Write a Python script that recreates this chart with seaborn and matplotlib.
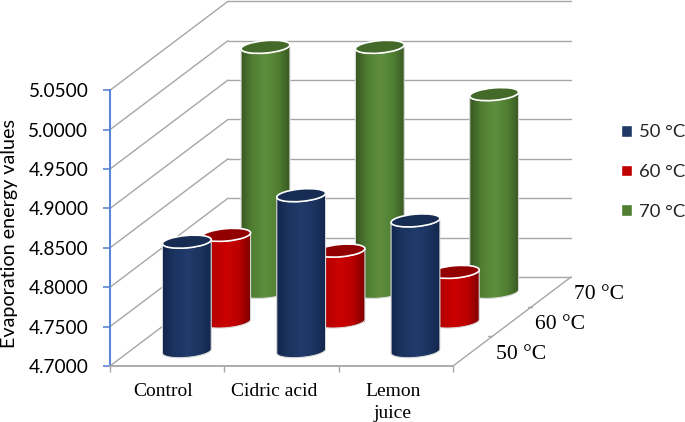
import numpy as np
import pandas as pd
import seaborn as sns
import matplotlib.pyplot as plt
from matplotlib.colors import LinearSegmentedColormap
from matplotlib.lines import Line2D
from matplotlib.patches import Ellipse, Polygon
from matplotlib.path import Path
from matplotlib.transforms import Affine2D, IdentityTransform

treatments = ['Control', 'Cidric acid', 'Lemon\njuice']
temps = ['50 °C', '60 °C', '70 °C']
v50 = [4.839, 4.898, 4.866]
v60 = [4.810, 4.790, 4.763]
v70 = [5.011, 5.011, 4.951]
yticks = [4.70, 4.75, 4.80, 4.85, 4.90, 4.95, 5.00, 5.05]

legend_cols = ['#1f3864', '#c00000', '#4f7f33']
cap_cols = ['#172c52', '#930000', '#436a28']
body_cols = [['#12244a', '#1b3460', '#213b6b', '#1b3460', '#12244a'],
             ['#740000', '#b80000', '#cc0000', '#b80000', '#740000'],
             ['#35521f', '#507f33', '#5e8e3d', '#507f33', '#35521f']]

# depth vector of the floor, in pixels
DX, DY = 118, 89
GREY = '#a6a6a6'

df = pd.DataFrame({
    'Treatment': treatments * 3,
    'Temp': np.repeat(temps, 3),
    'Value': v50 + v60 + v70,
})

sns.set_theme(style='white')
plt.rcParams['font.family'] = ['Lato', 'DejaVu Sans']

fig = plt.figure(figsize=(6.85, 4.22), dpi=100)
ax = fig.add_axes([110 / 685, (422 - 366) / 422, 343 / 685, 275.7 / 422])
sns.barplot(data=df, x='Treatment', y='Value', hue='Temp', dodge=False, width=0.42,
            palette=legend_cols, saturation=1, errorbar=None, ax=ax)
ax.set_xlim(-0.5, 2.5)
ax.set_ylim(4.7, 5.05)
ax.autoscale(False)
ax.patch.set_alpha(0)
sns.despine(ax=ax, top=True, right=True)


def project(x, y, d):
    px = ax.transData.transform((x, y))
    return px + np.array([DX * d, DY * d])


def wall_line(p0, p1, lw=1.0):
    ax.add_line(Line2D([p0[0], p1[0]], [p0[1], p1[1]], color=GREY, lw=lw, zorder=1,
                       transform=IdentityTransform(), clip_on=False))


# walls and floor
for tick in yticks:
    wall_line(project(-0.5, tick, 0), project(-0.5, tick, 1))
    wall_line(project(-0.5, tick, 1), project(2.5, tick, 1))
wall_line(project(2.5, 4.7, 0), project(2.5, 4.7, 1))
for d in [1 / 3, 2 / 3]:
    p = project(2.5, 4.7, d)
    wall_line(p, p + np.array([-4, 0]))

# cylinders on top of the seaborn bars
RX, RY, TILT = 24.5, 6.2, 5
rot = np.deg2rad(TILT)


def arc(center, t0, t1):
    t = np.linspace(t0, t1, 40)
    ex, ey = RX * np.cos(t), RY * np.sin(t)
    return np.column_stack([center[0] + ex * np.cos(rot) - ey * np.sin(rot),
                            center[1] + ex * np.sin(rot) + ey * np.cos(rot)])


for k, bars in enumerate(ax.containers):
    d = (k + 0.5) / 3
    z = 10 - 3 * k
    shift = ax.transData + Affine2D().translate(DX * d, DY * d)
    cmap = LinearSegmentedColormap.from_list('body', body_cols[k])
    for bar in bars:
        val = bar.get_height()
        x0, w = bar.get_x(), bar.get_width()
        xc = x0 + w / 2
        bar.set_y(4.7)
        bar.set_height(val - 4.7)
        bar.set_transform(shift)
        bar.set_clip_on(False)
        bar.set_zorder(z)
        bar.set_edgecolor('none')

        bottom_c = project(xc, 4.7, d)
        top_c = project(xc, val, d)
        outline = np.vstack([arc(bottom_c, np.pi, 2 * np.pi), arc(top_c, 0, -np.pi)])

        im = ax.imshow(np.linspace(0, 1, 64)[None, :], cmap=cmap, aspect='auto', zorder=z + 0.1,
                       extent=(x0 - 0.02, x0 + w + 0.02, 4.66, val + 0.02),
                       transform=shift, interpolation='bilinear')
        im.set_clip_box(fig.bbox)
        im.set_clip_path(Path(outline), IdentityTransform())

        ax.add_patch(Polygon(outline, closed=True, fill=False, ec='#d9d9d9', lw=0.8, zorder=z + 0.2,
                             transform=IdentityTransform(), clip_on=False))
        ax.add_patch(Ellipse(top_c, 2 * RX, 2 * RY, angle=TILT, fc=cap_cols[k], ec='white', lw=1.2,
                             zorder=z + 0.3, transform=IdentityTransform(), clip_on=False))

# axes styling
ax.spines['left'].set_color('#5b86d6')
ax.spines['left'].set_linewidth(1.5)
ax.spines['bottom'].set_color(GREY)
ax.spines['bottom'].set_linewidth(1.3)
ax.set_yticks(yticks, [f'{t:.4f}' for t in yticks])
ax.tick_params(axis='y', left=True, length=5, width=1.2, color='#5b86d6', pad=10.5,
               labelsize=13.7, labelcolor='black')
ax.set_xticks([0, 1, 2], treatments)
ax.set_xticks([-0.5, 0.5, 1.5, 2.5], minor=True)
ax.tick_params(axis='x', which='major', bottom=False, pad=6.5, labelsize=14, labelcolor='black')
ax.tick_params(axis='x', which='minor', bottom=True, length=4, width=1, color=GREY)
for lab, off in zip(ax.get_xticklabels(), [-4, -7, -3]):
    lab.set_fontfamily('Liberation Serif')
    lab.set_verticalalignment('top')
    lab.set_linespacing(1.38)
    lab.set_transform(lab.get_transform() + Affine2D().translate(off, 0))
ax.set_xlabel('')
ax.set_ylabel('Evaporation energy values', fontsize=14.2, color='black')
ax.yaxis.set_label_coords(-0.268, 0.482)

# depth axis labels
for i, temp in enumerate(temps):
    d = (i + 0.5) / 3
    p = project(2.5, 4.7, d)
    ax.annotate(temp, xy=p, xycoords='figure pixels', xytext=(48, -3), textcoords='offset pixels',
                ha='center', va='center', fontsize=15.6, family='Liberation Serif', color='black',
                annotation_clip=False)

sns.move_legend(ax, loc='center left', bbox_to_anchor=(604 / 685, (422 - 172) / 422),
                bbox_transform=fig.transFigure, frameon=False, title=None, fontsize=13.3,
                handlelength=0.6, handleheight=0.6, handletextpad=0.4, labelspacing=1.28)

fig.savefig('out.png', dpi=100)
